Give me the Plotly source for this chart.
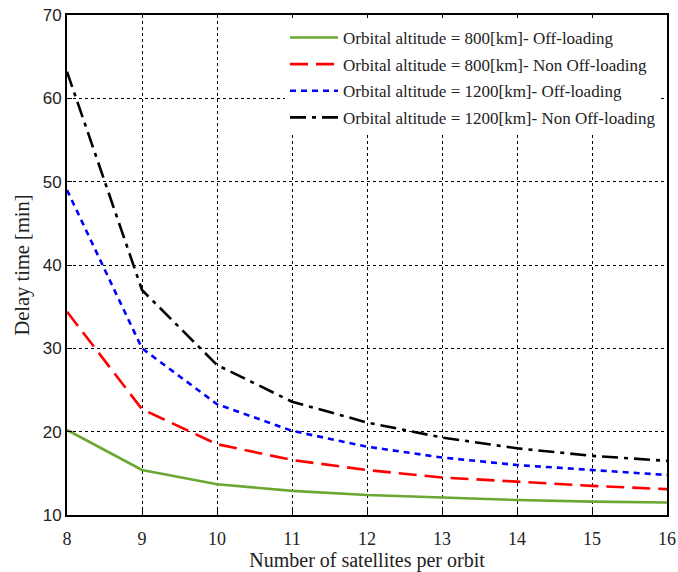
import plotly.graph_objects as go

x_sats = [8, 9, 10, 11, 12, 13, 14, 15, 16]
off_800 = [20.2, 15.4, 13.7, 12.9, 12.4, 12.1, 11.8, 11.6, 11.5]
non_800 = [34.4, 22.7, 18.5, 16.6, 15.4, 14.5, 14.0, 13.5, 13.1]
off_1200 = [49.0, 30.0, 23.3, 20.1, 18.2, 16.9, 16.0, 15.4, 14.8]
non_1200 = [63.2, 37.0, 28.0, 23.6, 21.1, 19.3, 18.0, 17.1, 16.5]
names = [
    "Orbital altitude = 800[km]- Off-loading",
    "Orbital altitude = 800[km]- Non Off-loading",
    "Orbital altitude = 1200[km]- Off-loading",
    "Orbital altitude = 1200[km]- Non Off-loading",
]
x_ticks = list(range(8, 17))
y_ticks = [10, 20, 30, 40, 50, 60, 70]

series = [off_800, non_800, off_1200, non_1200]
colors = ["#6aa832", "#ff0000", "#0000ff", "#000000"]
dashes = ["solid", "18px,8px", "6px,5px", "16px,6px,4px,6px"]

fig = go.Figure()
for i, (ys, nm, c, d) in enumerate(zip(series, names, colors, dashes)):
    fig.add_trace(go.Scatter(x=x_sats, y=ys, name=nm, mode="lines",
                             legendgroup=f"g{i}",
                             line=dict(color=c, width=2.6, dash=d)))

axis_common = dict(
    showline=True, linecolor="black", linewidth=2, mirror=True,
    showgrid=True, gridcolor="black", gridwidth=1, griddash="dot",
    ticks="inside", ticklen=5, tickcolor="black", zeroline=False,
    automargin=False,
)
fig.update_xaxes(range=[8, 16], tickvals=x_ticks, **axis_common,
                 tickfont=dict(family="Liberation Serif", size=18, color="#222"),
                 ticklabelstandoff=6,
                 title=dict(text="Number of satellites per orbit",
                            font=dict(family="Liberation Serif", size=20, color="#222"),
                            standoff=2))
fig.update_yaxes(range=[10, 70], tickvals=y_ticks, **axis_common,
                 tickfont=dict(family="Liberation Sans", size=17, color="#222"),
                 title=dict(text="Delay time [min]",
                            font=dict(family="Liberation Serif", size=20.5, color="#222"),
                            standoff=8))

fig.update_layout(
    width=678, height=572,
    margin=dict(l=67, r=11, t=15, b=57),
    plot_bgcolor="white", paper_bgcolor="white",
    legend=dict(x=0.99, y=0.99, xanchor="right", yanchor="top",
                bgcolor="white", borderwidth=0, traceorder="grouped",
                font=dict(family="Liberation Serif", size=17, color="#222"),
                itemwidth=48, tracegroupgap=1.5),
)
fig.write_html("out.html")
